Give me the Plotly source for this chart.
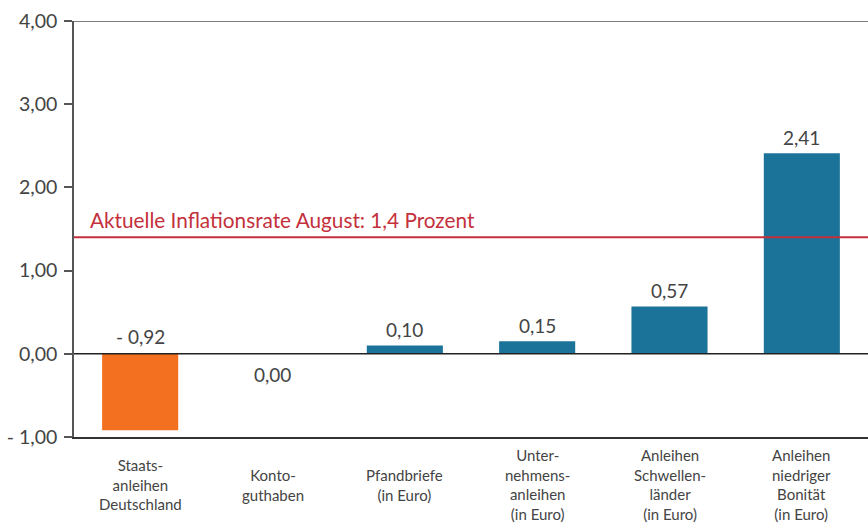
import plotly.graph_objects as go

categories = ["Staats-<br>anleihen<br>Deutschland", "Konto-<br>guthaben", "Pfandbriefe<br>(in Euro)",
              "Unter-<br>nehmens-<br>anleihen<br>(in Euro)", "Anleihen<br>Schwellen-<br>länder<br>(in Euro)",
              "Anleihen<br>niedriger<br>Bonität<br>(in Euro)"]
values = [-0.92, 0.00, 0.10, 0.15, 0.57, 2.41]
bar_colors = ["#F37021", "#1C7399", "#1C7399", "#1C7399", "#1C7399", "#1C7399"]
inflation = 1.4
inflation_label = "Aktuelle Inflationsrate August: 1,4 Prozent"
y_ticks = [-1, 0, 1, 2, 3, 4]

FONT = "Lato"
GREY = "#444444"

def fmt(v):
    s = f"{abs(v):.2f}".replace(".", ",")
    return ("- " + s) if v < 0 else s

fig = go.Figure(go.Bar(x=categories, y=values, marker_color=bar_colors, marker_line_width=0,
                       width=0.575, hoverinfo="skip"))

for c, v in zip(categories, values):
    if v < 0:
        fig.add_annotation(x=c, y=0, text=fmt(v), showarrow=False, yanchor="bottom", yshift=4,
                           font=dict(family=FONT, size=19, color=GREY))
    elif v == 0:
        fig.add_annotation(x=c, y=0, text=fmt(v), showarrow=False, yanchor="top", yshift=-7,
                           font=dict(family=FONT, size=19, color=GREY))
    else:
        fig.add_annotation(x=c, y=v, text=fmt(v), showarrow=False, yanchor="bottom", yshift=2,
                           font=dict(family=FONT, size=19, color=GREY))
    # category label, vertically centred below the axis
    fig.add_annotation(x=c, xref="x", yref="paper", y=-0.115, text=c, showarrow=False,
                       yanchor="middle", xanchor="center", align="center",
                       font=dict(family=FONT, size=15, color=GREY))

fig.add_shape(type="line", xref="paper", yref="y", x0=0, x1=1, y0=inflation, y1=inflation,
              line=dict(color="#C4303C", width=2))
fig.add_annotation(xref="paper", yref="y", x=0.0176, y=inflation, text=inflation_label, showarrow=False,
                   xanchor="left", yanchor="bottom", yshift=3,
                   font=dict(family=FONT, size=20.75, color="#C4303C"))
fig.add_shape(type="line", xref="paper", yref="y", x0=0, x1=1, y0=4, y1=4,
              line=dict(color="#555555", width=1.5))
fig.add_shape(type="line", xref="paper", yref="y", x0=0, x1=1, y0=0, y1=0,
              line=dict(color="#222222", width=1.5))

fig.update_layout(
    width=868, height=524,
    margin=dict(l=74, r=0, t=21, b=87),
    paper_bgcolor="white", plot_bgcolor="white",
    showlegend=False,
    font=dict(family=FONT, color=GREY),
)
fig.update_yaxes(range=[-1, 4], tickvals=y_ticks, ticktext=[fmt(t) for t in y_ticks],
                 showgrid=False, zeroline=False, showline=True, linecolor="#555555", linewidth=1.5,
                 ticks="outside", ticklen=8, tickcolor="#555555", tickwidth=1.5,
                 ticklabelstandoff=3, automargin=False,
                 tickfont=dict(family=FONT, size=19.5, color=GREY))
fig.update_xaxes(showgrid=False, showline=True, linecolor="#333333", linewidth=1.5, ticks="",
                 showticklabels=False, automargin=False)

fig.write_html("out.html", config={"displayModeBar": False},
               post_script="document.body.style.margin='0px';document.body.style.overflow='hidden';"
                           "document.documentElement.style.overflow='hidden';")
